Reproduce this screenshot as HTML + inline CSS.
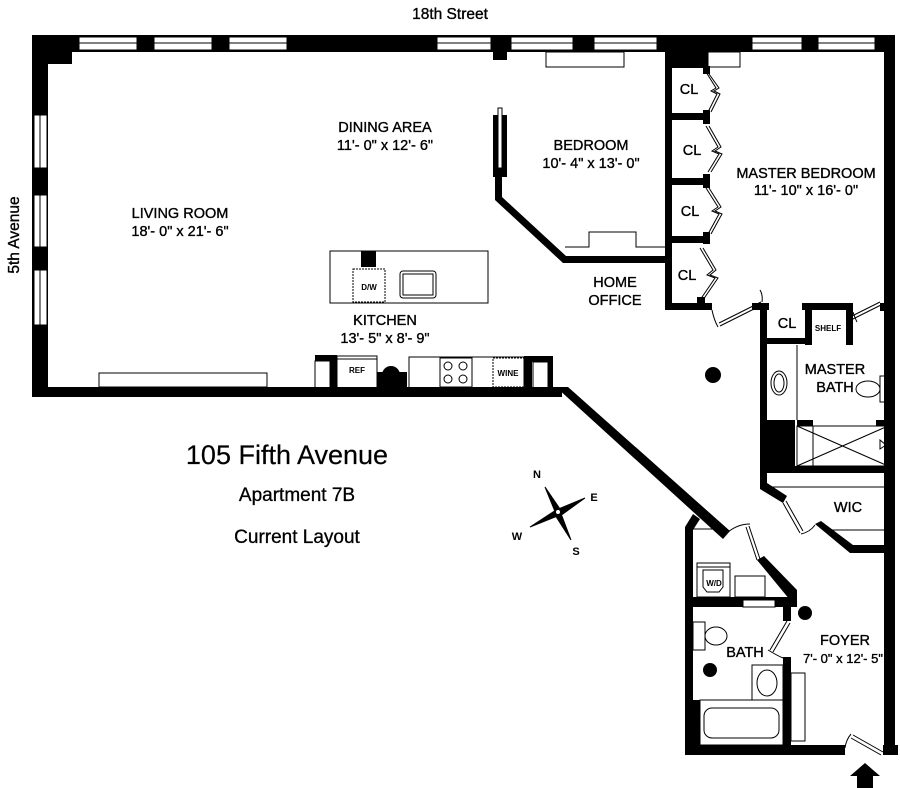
<!DOCTYPE html>
<html><head><meta charset="utf-8"><style>
html,body{margin:0;padding:0;background:#fff;}
svg{display:block;}
text{font-family:"Liberation Sans",Arial,sans-serif;fill:#000;}
.l{font-size:14.5px;text-anchor:middle;stroke:#000;stroke-width:0.35px;}
</style></head><body>
<svg width="900" height="788" viewBox="0 0 900 788" xmlns="http://www.w3.org/2000/svg">
<g fill="#000" stroke="none">
<rect x="32" y="35" width="863" height="17"/>
<rect x="32" y="35" width="16" height="362"/>
<rect x="48" y="52" width="24" height="12"/>
<rect x="884" y="35" width="11" height="715"/>
<rect x="32" y="387" width="530" height="10"/>
<polygon points="556,387 568,387 730,531 723,539"/>
<rect x="493" y="52" width="14" height="8"/>
<rect x="665" y="52" width="43" height="16"/>
<rect x="665" y="52" width="7" height="258"/>
<rect x="672" y="113" width="36" height="7"/>
<rect x="672" y="178" width="36" height="7"/>
<rect x="672" y="236" width="36" height="7"/>
<rect x="665" y="303" width="47" height="7"/>
<rect x="703" y="66" width="7" height="8"/>
<rect x="703" y="110" width="7" height="14"/>
<rect x="703" y="174" width="7" height="14"/>
<rect x="703" y="232" width="7" height="12"/>
<rect x="697" y="297" width="8" height="8"/>
<rect x="563" y="256" width="102" height="7"/>
<polygon points="495,177 502,177 502,197 566,256 563,263 495,200"/>
<rect x="493" y="115" width="14" height="62"/>
<rect x="752" y="303" width="17" height="7"/>
<rect x="802" y="303" width="51" height="7"/>
<rect x="760" y="303" width="7" height="182"/>
<rect x="805" y="303" width="7" height="42"/>
<rect x="846" y="303" width="7" height="42"/>
<rect x="767" y="338" width="45" height="6"/>
<rect x="760" y="420" width="35" height="50"/>
<rect x="797" y="420" width="16" height="6"/>
<rect x="876" y="420" width="12" height="6"/>
<rect x="760" y="466" width="130" height="7"/>
<rect x="880" y="303" width="8" height="8"/>
<polygon points="760,483 767,483 787,496 783,503 760,489"/>
<polygon points="815,524 821,521 853,545 890,545 890,553 850,553"/>
<polygon points="685,527 693,514 700,519 693,530 693,750 685,750"/>
<rect x="685" y="745" width="160" height="10"/>
<rect x="883" y="745" width="15" height="10"/>
<rect x="685" y="700" width="15" height="50"/>
<polygon points="757,560 764,556 797,590 797,600 790,600"/>
<rect x="693" y="597" width="104" height="10"/>
<rect x="783" y="597" width="8" height="24"/>
<rect x="783" y="657" width="8" height="92"/>
<rect x="315" y="355" width="22" height="6"/>
<rect x="330" y="355" width="7" height="33"/>
<rect x="377" y="372" width="30" height="16"/>
<circle cx="391" cy="375" r="9"/>
<rect x="524" y="356" width="24" height="6"/>
<rect x="524" y="356" width="8" height="32"/>
<rect x="548" y="356" width="5" height="32"/>
<rect x="361" y="251" width="15" height="16"/>
<circle cx="713" cy="375" r="8"/>
<circle cx="805" cy="613" r="7"/>
<circle cx="710" cy="670" r="7"/>
<polygon points="865,763 880,776 873,776 873,788 857,788 857,776 850,776"/>
</g>
<g fill="#fff" stroke="#000" stroke-width="1">
<rect x="498" y="108" width="4" height="60"/>
<rect x="79" y="37" width="58" height="13"/><line x1="79" y1="43" x2="137" y2="43"/>
<rect x="154" y="37" width="58" height="13"/><line x1="154" y1="43" x2="212" y2="43"/>
<rect x="229" y="37" width="58" height="13"/><line x1="229" y1="43" x2="287" y2="43"/>
<rect x="437" y="37" width="54" height="13"/><line x1="437" y1="43" x2="491" y2="43"/>
<rect x="511" y="37" width="62" height="13"/><line x1="511" y1="43" x2="573" y2="43"/>
<rect x="594" y="37" width="63" height="13"/><line x1="594" y1="43" x2="657" y2="43"/>
<rect x="752" y="37" width="50" height="13"/><line x1="752" y1="43" x2="802" y2="43"/>
<rect x="818" y="37" width="57" height="13"/><line x1="818" y1="43" x2="875" y2="43"/>
<rect x="34" y="115" width="13" height="53"/><line x1="40" y1="115" x2="40" y2="168"/>
<rect x="34" y="195" width="13" height="52"/><line x1="40" y1="195" x2="40" y2="247"/>
<rect x="34" y="270" width="13" height="55"/><line x1="40" y1="270" x2="40" y2="325"/>
</g>
<g fill="none" stroke="#000" stroke-width="1">
<rect x="546" y="52" width="78" height="15"/>
<rect x="708" y="52" width="32" height="15"/>
<polyline points="565,247 589,247 589,232 636,232 636,247 665,247"/>
<rect x="99" y="373" width="168" height="14"/>
<rect x="330" y="251" width="158" height="52"/>
<rect x="353" y="269" width="32" height="33" stroke-dasharray="2,1"/>
<rect x="400" y="271" width="36" height="27" rx="3"/>
<rect x="403" y="274" width="30" height="21"/>
<rect x="337" y="359" width="40" height="29"/>
<rect x="337" y="356" width="40" height="3"/>
<rect x="315" y="361" width="15" height="27"/>
<rect x="409" y="357" width="115" height="31"/>
<rect x="440" y="358" width="32" height="29"/>
<circle cx="448" cy="366" r="4"/><circle cx="463" cy="366" r="4"/>
<circle cx="448" cy="379" r="4"/><circle cx="463" cy="379" r="4"/>
<rect x="493" y="358" width="31" height="29" stroke-dasharray="2,1"/>
<rect x="533" y="362" width="15" height="26"/>
<polyline points="706,72 716,88 711,91 717,94 708,112"/>
<polyline points="709,74 719,88 714,91 720,94 711,112"/>
<polyline points="706,126 718,147 712,151 719,154 708,172"/>
<polyline points="709,126 721,147 715,151 722,154 711,172"/>
<polyline points="706,188 718,207 712,211 719,214 708,234"/>
<polyline points="709,188 721,207 715,211 722,214 711,234"/>
<polyline points="700,248 713,270 707,275 715,278 700,300"/>
<polyline points="703,248 716,270 710,275 718,278 703,300"/>
<line x1="719" y1="323" x2="761" y2="302"/><line x1="720" y1="326" x2="762" y2="305"/>
<path d="M712,310 Q714,320 718,327"/>
<path d="M762,302 Q763,295 760,290"/>
<line x1="850" y1="317" x2="880" y2="302"/><line x1="851" y1="320" x2="881" y2="305"/>
<path d="M853,312 Q855,318 857,322"/>
<line x1="783" y1="503" x2="800" y2="533"/><line x1="786" y1="501" x2="803" y2="531"/>
<path d="M801,534 Q810,532 815,525"/>
<line x1="746" y1="527" x2="757" y2="560"/><line x1="749" y1="526" x2="760" y2="559"/>
<path d="M728,532 Q738,524 750,524"/>
<line x1="787" y1="621" x2="770" y2="650"/><line x1="790" y1="623" x2="773" y2="652"/>
<path d="M768,650 Q778,656 783,658"/>
<line x1="853" y1="735" x2="883" y2="752"/><line x1="851" y1="738" x2="881" y2="755"/>
<path d="M845,748 Q846,740 851,734"/>
<line x1="797" y1="345" x2="797" y2="420"/>
<ellipse cx="779" cy="383" rx="8" ry="12"/><ellipse cx="779" cy="383" rx="5" ry="9"/>
<rect x="880" y="376" width="8" height="26"/>
<ellipse cx="868" cy="389" rx="12" ry="8"/>
<rect x="797" y="426" width="91" height="40"/>
<line x1="813" y1="426" x2="813" y2="466"/>
<line x1="797" y1="426" x2="888" y2="466"/><line x1="797" y1="466" x2="888" y2="426"/>
<polygon points="880,440 886,445 880,449"/>
<line x1="767" y1="487" x2="888" y2="487"/>
<line x1="830" y1="530" x2="888" y2="530"/>
<line x1="693" y1="529" x2="724" y2="529"/>
<rect x="697" y="563" width="33" height="34"/>
<rect x="697" y="563" width="33" height="4"/>
<path d="M703,570 h20 v17 l-4,5 h-12 l-4,-5 z"/>
<rect x="735" y="576" width="30" height="21"/>
<rect x="743" y="600" width="32" height="7" fill="#fff"/>
<rect x="693" y="622" width="12" height="28"/>
<ellipse cx="716" cy="636" rx="11" ry="9"/>
<rect x="752" y="665" width="31" height="35"/>
<ellipse cx="767" cy="683" rx="10" ry="13"/>
<rect x="700" y="700" width="83" height="45"/>
<rect x="704" y="708" width="75" height="30" rx="8"/>
<rect x="791" y="673" width="14" height="68"/>
</g>
<g fill="#000" stroke="#000" stroke-width="1">
<polygon points="545,487 560,509 556,514"/>
<polygon points="585,498 560,516 556,510"/>
<polygon points="571,540 555,515 560,511"/>
<polygon points="530,527 556,510 560,515"/>
<circle cx="558" cy="512" r="2.5" fill="#fff"/>
</g>
<g font-weight="bold" font-size="11" style="text-anchor:middle">
<text x="537" y="478">N</text><text x="594" y="501">E</text>
<text x="576" y="555">S</text><text x="517" y="540">W</text>
</g>
<text x="450" y="19" class="l" style="font-size:15.5px">18th Street</text>
<text transform="translate(19,235) rotate(-90)" class="l" style="font-size:15.5px">5th Avenue</text>
<text x="385" y="132" class="l">DINING AREA</text><text x="385" y="150" class="l">11'- 0" x 12'- 6"</text>
<text x="180" y="218" class="l">LIVING ROOM</text><text x="180" y="236" class="l">18'- 0" x 21'- 6"</text>
<text x="591" y="150" class="l">BEDROOM</text><text x="591" y="168" class="l">10'- 4" x 13'- 0"</text>
<text x="806" y="178" class="l">MASTER BEDROOM</text><text x="806" y="195" class="l">11'- 10" x 16'- 0"</text>
<text x="615" y="287" class="l">HOME</text><text x="615" y="305" class="l">OFFICE</text>
<text x="385" y="325" class="l">KITCHEN</text><text x="385" y="343" class="l">13'- 5" x 8'- 9"</text>
<text x="689" y="94" class="l">CL</text><text x="692" y="155" class="l">CL</text>
<text x="690" y="216" class="l">CL</text><text x="687" y="280" class="l">CL</text>
<text x="787" y="328" class="l">CL</text>
<text x="828" y="331" class="l" style="font-size:8px;font-weight:bold;stroke-width:0">SHELF</text>
<text x="835" y="374" class="l">MASTER</text><text x="835" y="392" class="l">BATH</text>
<text x="848" y="512" class="l">WIC</text>
<text x="845" y="645" class="l">FOYER</text><text x="843" y="663" class="l" style="font-size:13px">7'- 0" x 12'- 5"</text>
<text x="745" y="657" class="l">BATH</text>
<text x="369" y="290" class="l" style="font-size:8px;font-weight:bold;stroke-width:0">D/W</text>
<text x="357" y="373" class="l" style="font-size:8px;font-weight:bold;stroke-width:0">REF</text>
<text x="508" y="376" class="l" style="font-size:8px;font-weight:bold;stroke-width:0">WINE</text>
<text x="714" y="586" class="l" style="font-size:8px;font-weight:bold;stroke-width:0">W/D</text>
<text x="287" y="464" class="l" style="font-size:27px;stroke-width:0.2px">105 Fifth Avenue</text>
<text x="297" y="501" class="l" style="font-size:19px;stroke-width:0.3px">Apartment 7B</text>
<text x="297" y="543" class="l" style="font-size:19px;stroke-width:0.3px">Current Layout</text>
</svg>
</body></html>
